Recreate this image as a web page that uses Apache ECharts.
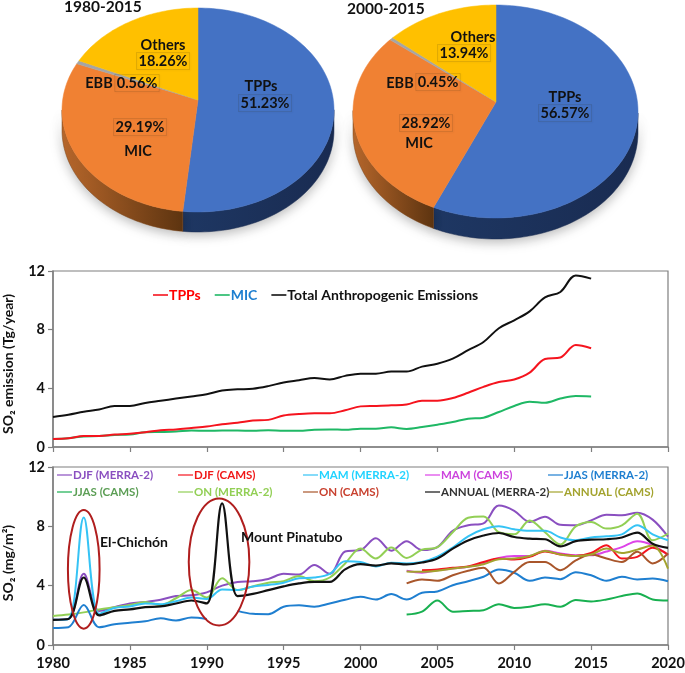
<!DOCTYPE html>
<html><head><meta charset="utf-8">
<style>html,body{margin:0;padding:0;background:#fff}#c{width:685px;height:673px}</style>
<script src="https://cdn.jsdelivr.net/npm/echarts@6/dist/echarts.min.js"></script>
</head><body><div id="c"></div>
<script>
// ---------- data ----------
const sliceNames = ['TPPs','MIC','EBB','Others'];
const share1980 = [51.23,29.19,0.56,18.26];
const share2000 = [56.57,28.92,0.45,13.94];

const emisTPP = [0.55,0.6,0.75,0.75,0.85,0.9,1.0,1.15,1.2,1.3,1.4,1.55,1.65,1.8,1.85,2.15,2.25,2.3,2.3,2.5,2.77,2.8,2.84,2.9,3.16,3.16,3.34,3.7,4.1,4.43,4.6,5.07,6.0,6.1,6.95,6.73];
const emisMIC = [0.55,0.6,0.72,0.75,0.82,0.85,1.0,1.02,1.05,1.12,1.1,1.12,1.12,1.1,1.15,1.1,1.1,1.17,1.2,1.17,1.25,1.25,1.34,1.23,1.36,1.52,1.7,1.93,2.0,2.39,2.8,3.09,3.02,3.3,3.48,3.45];
const emisTotal = [2.05,2.2,2.4,2.55,2.8,2.8,3.0,3.15,3.3,3.45,3.6,3.85,3.93,3.97,4.15,4.4,4.55,4.7,4.6,4.85,5.0,5.0,5.14,5.14,5.48,5.68,6.02,6.6,7.16,8.1,8.64,9.25,10.2,10.57,11.7,11.48];

const djfMerra = [1.7,1.75,4.8,2.3,2.55,2.8,2.9,3.05,3.3,3.35,3.55,4.0,4.25,4.3,4.45,4.8,4.75,5.4,4.8,6.3,6.4,7.2,6.35,7.0,6.4,6.6,7.7,8.07,8.2,9.4,9.05,8.3,8.65,8.1,8.07,8.4,8.78,8.75,8.92,8.45,7.3];
const mamMerra = [1.7,1.75,8.6,2.1,2.5,2.6,2.8,2.75,2.95,3.2,3.1,3.75,3.7,3.95,4.05,4.2,4.5,4.55,4.8,5.65,5.6,5.3,5.55,5.5,5.6,5.95,6.57,7.33,7.8,8.0,7.8,7.7,7.7,7.25,7.06,7.25,7.33,7.46,8.07,7.46,7.06];
const jjasMerra = [1.15,1.2,2.7,1.2,1.4,1.5,1.6,1.8,1.65,1.85,1.75,null,2.3,2.1,2.08,2.58,2.68,2.58,2.8,3.05,3.25,3.07,3.43,3.07,3.52,3.61,4.03,4.3,4.6,5.09,4.87,4.33,4.55,4.44,4.91,4.7,4.33,4.6,4.42,4.48,4.3];
const onMerra = [1.95,2.05,2.2,2.4,2.55,2.7,2.9,2.7,3.15,3.7,3.2,4.5,3.7,3.95,4.2,4.3,4.65,4.3,4.55,5.5,6.5,5.83,6.57,5.87,6.43,6.6,7.6,8.58,8.67,7.6,7.46,8.4,7.6,6.78,8.0,8.3,7.85,8.07,8.85,7.06,7.5];
const annualMerra = [1.7,1.75,4.55,2.0,2.3,2.4,2.55,2.6,2.8,3.0,2.8,9.55,3.3,3.45,3.7,3.95,4.15,4.25,4.25,5.1,5.45,5.35,5.5,5.43,5.56,5.83,6.5,7.05,7.38,7.55,7.28,7.17,7.13,6.65,7.0,7.1,7.13,7.25,7.58,6.83,6.55];
// CAMS series, from 2003
const djfCams = [null,5.04,5.09,5.2,5.3,5.6,5.83,5.76,5.94,6.3,6.1,6.0,6.2,6.73,5.83,5.94,6.55,6.1];
const mamCams = [5.0,4.87,5.04,5.15,5.27,5.5,5.87,6.0,6.0,6.35,6.17,6.05,6.05,6.3,6.6,7.0,6.73,6.05];
const jjasCams = [2.05,2.25,3.0,2.25,2.3,2.35,2.75,2.5,2.58,2.75,2.58,3.03,2.94,3.07,3.3,3.48,3.07,3.0];
const onCams = [4.15,4.42,4.33,4.7,5.0,5.2,4.15,4.93,5.6,5.6,5.04,5.7,6.1,5.83,5.6,6.28,5.5,6.17];
const annualCams = [4.95,4.93,5.0,5.15,5.27,5.45,5.78,5.83,6.0,6.33,6.1,6.0,6.1,6.5,6.2,6.43,6.7,5.15];

const yTicksMax = 12, xMin = 1980, xMax = 2020;
// volcano rings: centre year, centre value, half-width in years, half-height in value
const volcanoRings = [[1982,5.1,1.03,4.0],[1990.8,5.6,1.97,4.28]];

// ---------- layout / style ----------
const FONT = 'Lato';
const SMOOTH = 0.35;
const SLICE = ['#4472C4','#F08133','#A5A5A5','#FFC000'];
const pieGeom = [
 {cx:198,cy:110,rx:136,ry:102,ax:198,ay:100,depth:20},
 {cx:495.5,cy:111.5,rx:142.5,ry:106.5,ax:496,ay:102,depth:21}
];
const pieLabels = [
 [{n:3,x:163,y:45,vx:163,vy:61},{n:2,x:99,y:83,vx:137,vy:83},{n:1,x:138,y:151,vx:140,vy:127},{n:0,x:261,y:86,vx:265,vy:103}],
 [{n:3,x:473,y:37,vx:464,vy:53},{n:2,x:400,y:83,vx:438,vy:82},{n:1,x:419,y:143,vx:426,vy:123},{n:0,x:565,y:97,vx:565,vy:113}]
];

function rimPoint(g,theta){
  const dx=Math.sin(theta), dy=-Math.cos(theta)*g.ry/g.rx;
  const ox=(g.ax-g.cx)/g.rx, oy=(g.ay-g.cy)/g.ry, ux=dx/g.rx, uy=dy/g.ry;
  const a=ux*ux+uy*uy, b=2*(ox*ux+oy*uy), c=ox*ox+oy*oy-1;
  const t=(-b+Math.sqrt(b*b-4*a*c))/(2*a);
  return [g.ax+dx*t,g.ay+dy*t];
}
function pieSeries(values,g){
  const sum=values.reduce((a,b)=>a+b,0);
  const rows=values.map((v,i)=>[v,sliceNames[i]]);
  return {type:'custom',coordinateSystem:'none',silent:true,z:5,data:rows,animation:false,
    renderItem(params){
      const i=params.dataIndex;
      let before=0; for(let k=0;k<i;k++) before+=values[k];
      const a0=before/sum*2*Math.PI, a1=(before+values[i])/sum*2*Math.PI;
      const n=Math.max(2,Math.ceil((a1-a0)/0.03));
      const rim=[]; for(let k=0;k<=n;k++) rim.push(rimPoint(g,a0+(a1-a0)*k/n));
      const kids=[];
      const low=rim.filter(p=>p[1]>=g.cy-1);
      if(low.length>1){
        const poly=low.concat(low.slice().reverse().map(p=>[p[0],p[1]+g.depth]));
        const fill=i===1?{type:'linear',x:0,y:0,x2:1,y2:0,colorStops:[{offset:0,color:'#B9682C'},{offset:1,color:'#5E3511'}]}:
          {type:'linear',x:0,y:0,x2:1,y2:0,colorStops:[{offset:0,color:'#1F3864'},{offset:1,color:'#1A2C52'}]};
        kids.push({type:'polygon',shape:{points:poly},style:{fill:fill,stroke:i===1?'#7a4518':'#1A2C52',lineWidth:.5,shadowBlur:i===1||i===0?12:0,shadowColor:'rgba(0,0,0,.28)',shadowOffsetY:3}});
      }
      kids.push({type:'polygon',z2:5,shape:{points:[[g.ax,g.ay]].concat(rim)},style:{fill:SLICE[i],stroke:SLICE[i],lineWidth:.5}});
      return {type:'group',children:kids};
    }};
}
function labelElems(values,labels){
  const out=[];
  labels.forEach(l=>{
    out.push({type:'text',z:20,x:l.x,y:l.y,style:{text:sliceNames[l.n],fill:'#111',font:'bold 14.5px '+FONT,align:'center',verticalAlign:'middle'}});
    out.push({type:'text',z:20,x:l.vx,y:l.vy,style:{text:values[l.n].toFixed(2)+'%',fill:'#111',font:'bold 14.5px '+FONT,align:'center',verticalAlign:'middle',
      padding:[1,2,1,2],borderColor:'rgba(60,50,30,.14)',borderWidth:1,shadowColor:'rgba(0,0,0,.3)',shadowBlur:2,shadowOffsetX:1,shadowOffsetY:1}});
  });
  return out;
}
const fromYear=(y0,vals)=>vals.map((v,i)=>[y0+i,v]);
function line(name,y0,vals,color,w,ax){
  return {name,type:'line',xAxisIndex:ax,yAxisIndex:ax,data:fromYear(y0,vals),smooth:SMOOTH,showSymbol:false,symbol:'none',
    connectNulls:false,lineStyle:{color,width:w},itemStyle:{color},z:3,animation:false,silent:true};
}
const axisGray='#7f7f7f';
function xAxis(idx,labels){return {type:'value',gridIndex:idx,min:xMin,max:xMax,interval:5,splitLine:{show:false},
  axisLine:{show:true,onZero:false,lineStyle:{color:axisGray,width:1.5}},axisTick:{show:true,length:5,lineStyle:{color:axisGray,width:1.2}},
  axisLabel:{show:labels,color:'#111',fontFamily:FONT,fontWeight:'bold',fontSize:14.5,margin:11,formatter:v=>String(v),hideOverlap:false}};}
function yAxis(idx,name,gap,shift){return {type:'value',gridIndex:idx,min:0,max:yTicksMax,interval:4,splitLine:{show:false},
  axisLine:{show:true,lineStyle:{color:axisGray,width:1.5}},axisTick:{show:true,length:5,lineStyle:{color:axisGray,width:1.2}},
  axisLabel:{color:'#111',fontFamily:FONT,fontWeight:'bold',fontSize:14.5,margin:8},
  name,nameLocation:'middle',nameGap:gap,nameRotate:90,nameTextStyle:{color:'#111',fontFamily:FONT,fontWeight:'bold',fontSize:14,padding:[0,shift,0,0]}};}
function legendCol(left,top,items){
  return {left,top,orient:'vertical',itemGap:5,itemWidth:15,itemHeight:8,padding:0,selectedMode:false,icon:'path://M0,3.4 H15 V4.6 H0 Z',
    textStyle:{fontFamily:FONT,fontWeight:'bold',fontSize:11.5,padding:[0,0,0,-4]},
    data:items.map(([name,color])=>({name,textStyle:{color,fontFamily:FONT,fontWeight:'bold',fontSize:11.5}}))};
}

const option={
  backgroundColor:'#fff',animation:false,
  grid:[{left:53,top:271,width:615,height:176,show:true,borderColor:axisGray,borderWidth:1.2,containLabel:false,outerBoundsMode:'none'},
        {left:53,top:467,width:615,height:178,show:true,borderColor:axisGray,borderWidth:1.2,containLabel:false,outerBoundsMode:'none'}],
  xAxis:[xAxis(0,false),xAxis(1,true)],
  yAxis:[yAxis(0,'SO₂ emission (Tg/year)',38,10),yAxis(1,'SO₂ (mg/m²)',38,14)],
  title:[
    {text:'1980-2015',left:64,top:-1,padding:0,textStyle:{color:'#111',fontFamily:FONT,fontWeight:'bold',fontSize:15.5}},
    {text:'2000-2015',left:347,top:1,padding:0,textStyle:{color:'#111',fontFamily:FONT,fontWeight:'bold',fontSize:15.5}}
  ],
  legend:[
    {left:153,top:288,itemGap:14,itemWidth:15,itemHeight:8,padding:0,selectedMode:false,icon:'path://M0,3.2 H15 V4.8 H0 Z',
      data:[['TPPs','#FF0000'],['MIC','#1F7FD0'],['Total Anthropogenic Emissions','#111']].map(([name,color])=>({name,textStyle:{color,fontFamily:FONT,fontWeight:'bold',fontSize:14,padding:[0,0,0,-4]}}))},
    legendCol(57,469,[['DJF (MERRA-2)','#8A4FC0'],['JJAS (CAMS)','#5C9E55']]),
    legendCol(178,469,[['DJF (CAMS)','#F01818'],['ON (MERRA-2)','#92CF55']]),
    legendCol(303,469,[['MAM (MERRA-2)','#22D3FF'],['ON (CAMS)','#C8402E']]),
    legendCol(425,469,[['MAM (CAMS)','#CC44DD'],['ANNUAL (MERRA-2)','#333']]),
    legendCol(548,469,[['JJAS (MERRA-2)','#1F7FD0'],['ANNUAL (CAMS)','#A3A32E']])
  ],
  series:[
    pieSeries(share1980,pieGeom[0]),
    pieSeries(share2000,pieGeom[1]),
    line('MIC',1980,emisMIC,'#1FB865',2,0),
    line('TPPs',1980,emisTPP,'#F5141E',2,0),
    line('Total Anthropogenic Emissions',1980,emisTotal,'#111',2,0),
    line('DJF (MERRA-2)',1980,djfMerra,'#8A4FC0',2,1),
    line('ON (MERRA-2)',1980,onMerra,'#92CF55',2,1),
    line('JJAS (MERRA-2)',1980,jjasMerra,'#1F7FD0',2,1),
    line('MAM (MERRA-2)',1980,mamMerra,'#35C3F5',2,1),
    line('JJAS (CAMS)',2003,jjasCams,'#18B050',2,1),
    line('MAM (CAMS)',2003,mamCams,'#DD44E8',2,1),
    line('DJF (CAMS)',2003,djfCams,'#F5141E',2,1),
    line('ON (CAMS)',2003,onCams,'#A9562B',2,1),
    line('ANNUAL (CAMS)',2003,annualCams,'#A3A32E',2,1),
    line('ANNUAL (MERRA-2)',1980,annualMerra,'#111',2.2,1),
    {type:'custom',coordinateSystem:'cartesian2d',xAxisIndex:1,yAxisIndex:1,z:6,silent:true,animation:false,clip:false,
      data:volcanoRings,encode:{x:0,y:1},
      renderItem(p,api){
        const c=api.coord([api.value(0),api.value(1)]);
        const e=api.coord([api.value(0)+api.value(2),api.value(1)+api.value(3)]);
        return {type:'ellipse',shape:{cx:c[0],cy:c[1],rx:e[0]-c[0],ry:c[1]-e[1]},style:{fill:null,stroke:'#B01E1E',lineWidth:2}};
      }}
  ],
  graphic:{elements:[
    ...labelElems(share1980,pieLabels[0]),
    ...labelElems(share2000,pieLabels[1]),
    {type:'text',z:20,x:100,y:542,style:{text:'El-Chichón',fill:'#111',font:'bold 14px '+FONT,verticalAlign:'middle'}},
    {type:'text',z:20,x:241,y:537,style:{text:'Mount Pinatubo',fill:'#111',font:'bold 14px '+FONT,verticalAlign:'middle'}}
  ]}
};
echarts.init(document.getElementById('c'),null,{renderer:'canvas'}).setOption(option);
</script></body></html>
